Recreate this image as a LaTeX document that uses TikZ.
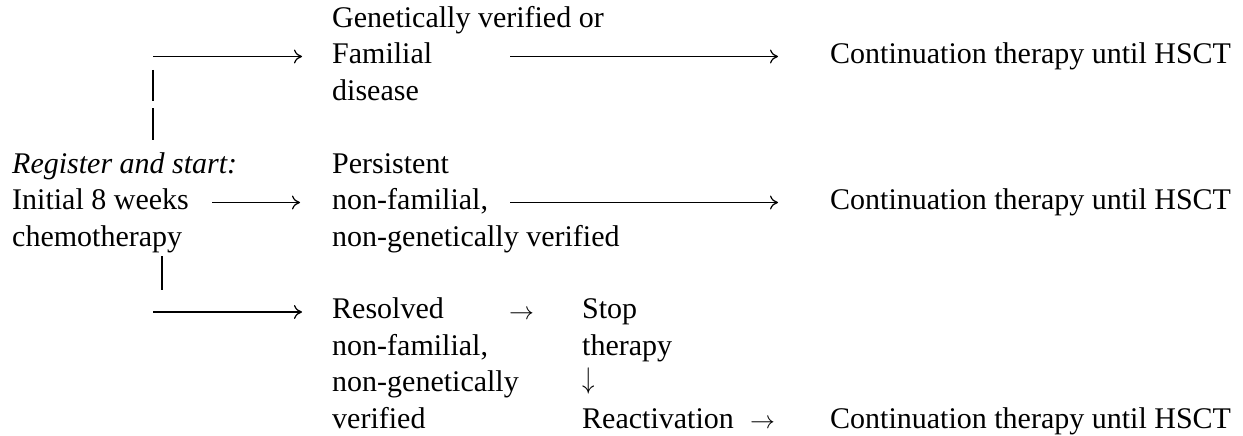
\documentclass[tikz,border=0pt]{standalone}
\usepackage{fontspec}
\setmainfont{Liberation Serif}
\usetikzlibrary{arrows.meta,positioning,calc}

\begin{document}
\begin{tikzpicture}[
    x=1pt, y=-1pt,
    lbl/.style={anchor=base west, inner sep=0pt, align=left,
        font=\fontsize{30}{36.5}\selectfont},
    link/.style={line width=1.2pt},
    >={To[length=8pt,width=14pt]}
  ]
  \useasboundingbox (0,0) rectangle (1243,436);

  % text columns (placed at the baseline of their last line)
  \node[lbl] (start) at (12,246) {\textit{Register and start:}\\Initial 8 weeks\\chemotherapy};
  \node[lbl] (gen) at (332,100) {Genetically verified or\\Familial\\disease};
  \node[lbl] (pers) at (332,246) {Persistent\\non-familial,\\non-genetically verified};
  \node[lbl] (res) at (332,428) {Resolved\\non-familial,\\non-genetically\\verified};
  \node[lbl] (stop) at (582,355) {Stop\\therapy};
  \node[lbl] (down) at (582,388) {\scalebox{1}[1.2]{$\downarrow$}};
  \node[lbl] (react) at (582,428) {Reactivation};
  \node[lbl] (r2s) at (509,319) {$\rightarrow$};
  \node[lbl] (r2h) at (750,428) {$\rightarrow$};
  \node[lbl] (hsct1) at (830,63.5) {Continuation therapy until HSCT};
  \node[lbl] (hsct2) at (830,209.5) {Continuation therapy until HSCT};
  \node[lbl] (hsct3) at (830,428) {Continuation therapy until HSCT};

  % free ends of the connectors
  \coordinate (fork1) at (153,56.5);
  \coordinate (fork2) at (153,312);
  \coordinate (split) at (212,202.5);
  \coordinate (fam) at (510,56.5);
  \coordinate (nonfam) at (510,202.5);
  \coordinate (up1) at (153,70);
  \coordinate (up2) at (153,101);
  \coordinate (up3) at (153,108);
  \coordinate (up4) at (153,140);
  \coordinate (dn1) at (162,256);
  \coordinate (dn2) at (162,290);

  \draw[link] (up1) -- (up2);
  \draw[link] (up3) -- (up4);
  \draw[link] (dn1) -- (dn2);

  \draw[link,->] (fork1) -- ([xshift=-30pt]gen.west |- fork1);
  \draw[link,->] (split) -- ([xshift=-32pt]pers.west |- split);
  \draw[link,->] (fork2) -- ([xshift=-30pt]res.west |- fork2);
  \draw[link,->] (fam) -- ([xshift=-52pt]hsct1.west |- fam);
  \draw[link,->] (nonfam) -- ([xshift=-52pt]hsct2.west |- nonfam);
\end{tikzpicture}
\end{document}
